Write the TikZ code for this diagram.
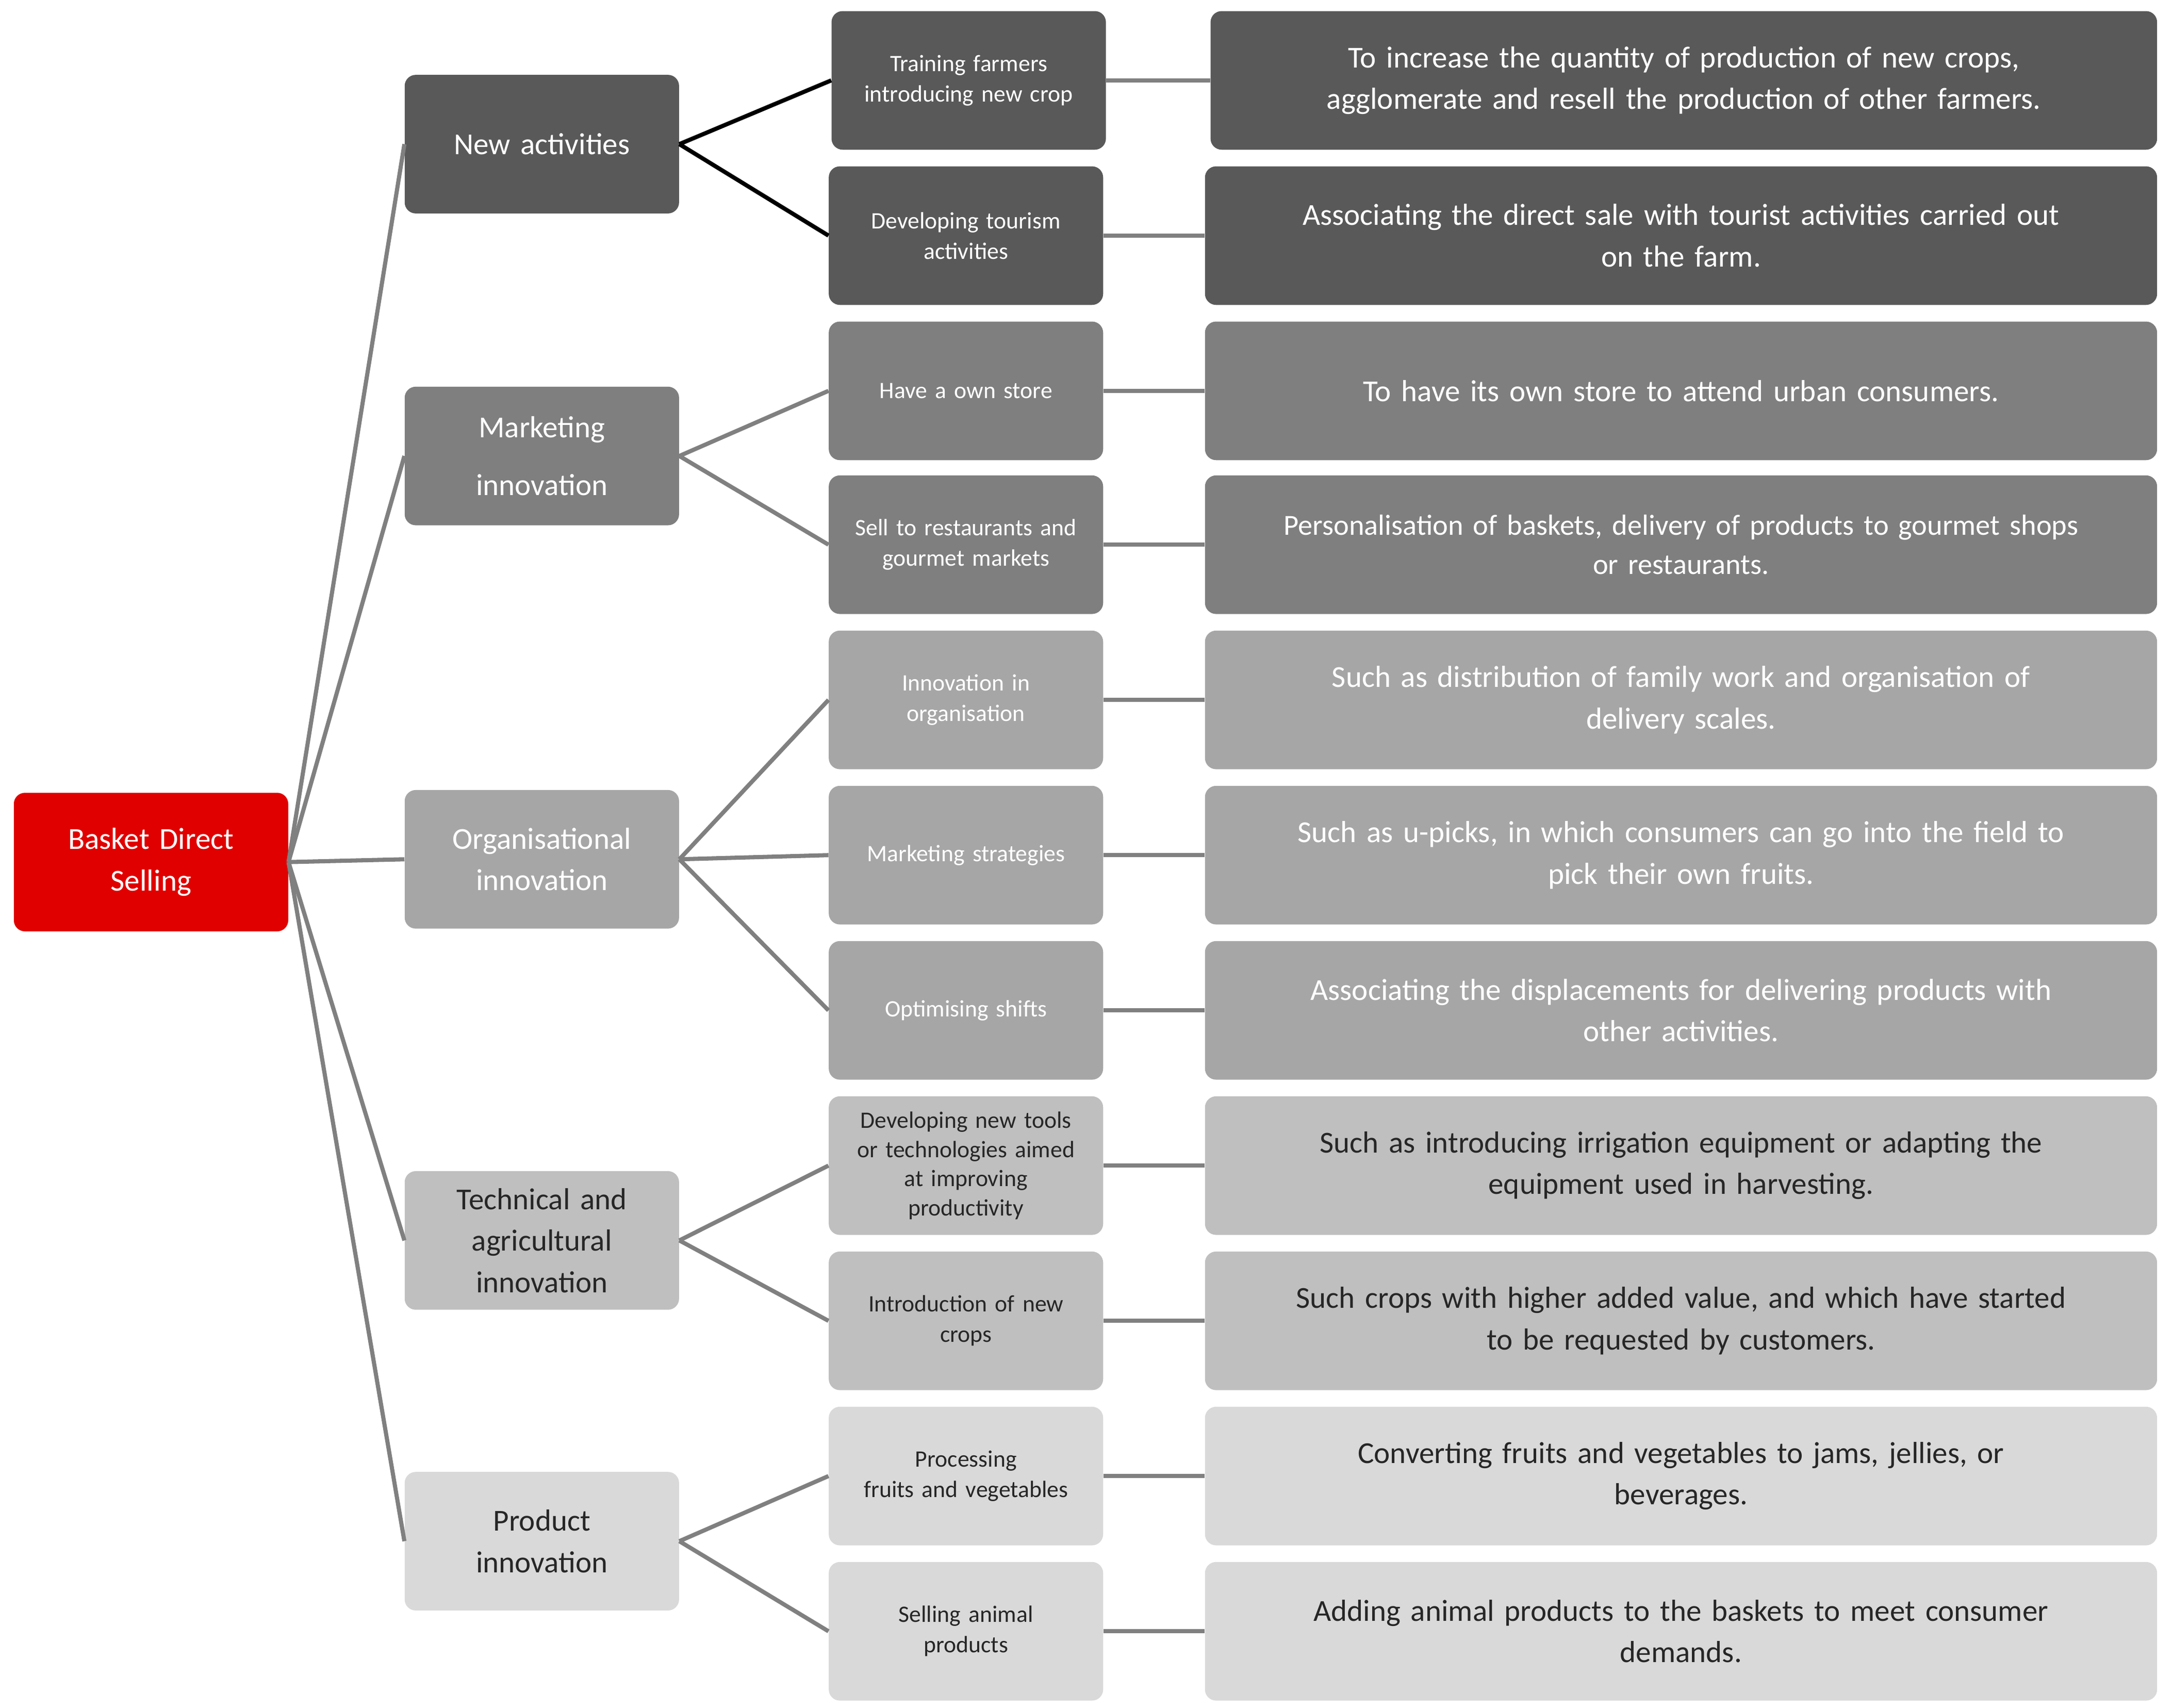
\documentclass[tikz,border=0pt]{standalone}
\usepackage{fontspec}
\setmainfont{Carlito}
\definecolor{cA}{HTML}{595959}
\definecolor{cB}{HTML}{7F7F7F}
\definecolor{cC}{HTML}{A6A6A6}
\definecolor{cD}{HTML}{BFBFBF}
\definecolor{cE}{HTML}{D9D9D9}
\definecolor{cR}{HTML}{E00000}
\definecolor{ln}{HTML}{808080}
\begin{document}
\begin{tikzpicture}[x=1pt,y=-1pt,
 box/.style={rounded corners=8pt,align=center,inner sep=2pt,minimum height=100pt},
 l1/.style={box,minimum width=198pt,text width=190pt,font=\fontsize{22}{30}\selectfont},
 l2/.style={box,minimum width=198pt,text width=194pt,font=\fontsize{17}{22}\selectfont},
 l3/.style={box,minimum width=687pt,text width=675pt,font=\fontsize{22}{30}\selectfont},
 con/.style={draw=ln,line width=3pt},
 conk/.style={draw=black,line width=3pt}]
\useasboundingbox (0,0) rectangle (1568,1232);
\node[box,fill=cR,text=white,minimum width=198pt,text width=190pt,font=\fontsize{22}{30}\selectfont] (root) at (109,622) {Basket Direct\\Selling};
% level1
\node[l1,fill=cA,text=white] (a) at (391,104) {New activities};
\node[l1,fill=cB,text=white,font=\fontsize{22}{42}\selectfont] (b) at (391,329) {Marketing\\innovation};
\node[l1,fill=cC,text=white] (c) at (391,620) {Organisational\\innovation};
\node[l1,fill=cD,text=black!85] (d) at (391,895) {Technical and\\agricultural\\innovation};
\node[l1,fill=cE,text=black!85] (e) at (391,1112) {Product\\innovation};
% level2
\node[l2,fill=cA,text=white] (a1) at (699,58) {Training farmers\\introducing new crop};
\node[l2,fill=cA,text=white] (a2) at (697,170) {Developing tourism\\activities};
\node[l2,fill=cB,text=white] (b1) at (697,282) {Have a own store};
\node[l2,fill=cB,text=white] (b2) at (697,393) {Sell to restaurants and\\gourmet markets};
\node[l2,fill=cC,text=white] (c1) at (697,505) {Innovation in\\organisation};
\node[l2,fill=cC,text=white] (c2) at (697,617) {Marketing strategies};
\node[l2,fill=cC,text=white] (c3) at (697,729) {Optimising shifts};
\node[l2,fill=cD,text=black!85,font=\fontsize{17}{21}\selectfont] (d1) at (697,841) {Developing new tools\\or technologies aimed\\at improving\\productivity};
\node[l2,fill=cD,text=black!85] (d2) at (697,953) {Introduction of new\\crops};
\node[l2,fill=cE,text=black!85] (e1) at (697,1065) {Processing\\fruits and vegetables};
\node[l2,fill=cE,text=black!85] (e2) at (697,1177) {Selling animal\\products};
% level3
\node[l3,fill=cA,text=white,minimum width=683pt] (a1t) at (1215,58) {To increase the quantity of production of new crops,\\agglomerate and resell the production of other farmers.};
\node[l3,fill=cA,text=white] (a2t) at (1213,170) {Associating the direct sale with tourist activities carried out\\on the farm.};
\node[l3,fill=cB,text=white] (b1t) at (1213,282) {To have its own store to attend urban consumers.};
\node[l3,fill=cB,text=white,font=\fontsize{21}{28}\selectfont] (b2t) at (1213,393) {Personalisation of baskets, delivery of products to gourmet shops\\or restaurants.};
\node[l3,fill=cC,text=white] (c1t) at (1213,505) {Such as distribution of family work and organisation of\\delivery scales.};
\node[l3,fill=cC,text=white] (c2t) at (1213,617) {Such as u-picks, in which consumers can go into the field to\\pick their own fruits.};
\node[l3,fill=cC,text=white] (c3t) at (1213,729) {Associating the displacements for delivering products with\\other activities.};
\node[l3,fill=cD,text=black!85] (d1t) at (1213,841) {Such as introducing irrigation equipment or adapting the\\equipment used in harvesting.};
\node[l3,fill=cD,text=black!85] (d2t) at (1213,953) {Such crops with higher added value, and which have started\\to be requested by customers.};
\node[l3,fill=cE,text=black!85] (e1t) at (1213,1065) {Converting fruits and vegetables to jams, jellies, or\\beverages.};
\node[l3,fill=cE,text=black!85] (e2t) at (1213,1177) {Adding animal products to the baskets to meet consumer\\demands.};
% connectors
\begin{scope}[on background layer/.style={}]
\foreach \n in {a,b,c,d,e} \draw[con] (root.east) -- (\n.west);
\draw[conk] (a.east) -- (a1.west);
\draw[conk] (a.east) -- (a2.west);
\foreach \p/\k in {b/b1,b/b2,c/c1,c/c2,c/c3,d/d1,d/d2,e/e1,e/e2} \draw[con] (\p.east) -- (\k.west);
\foreach \k in {a1,a2,b1,b2,c1,c2,c3,d1,d2,e1,e2} \draw[con] (\k.east) -- (\k t.west);
\end{scope}
\end{tikzpicture}
\end{document}
